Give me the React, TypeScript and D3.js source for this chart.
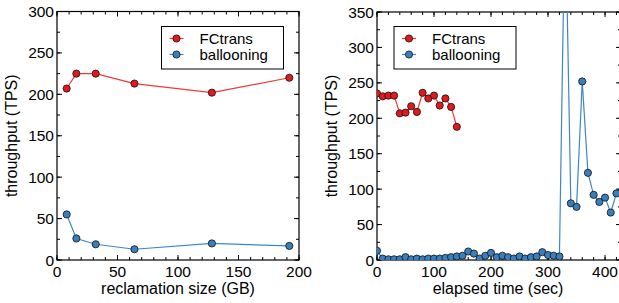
import React from "react";
import { scaleLinear, line, range } from "d3";

// left panel: throughput vs reclamation size
const sizeGB = [8, 16, 32, 64, 128, 192];
const sizeFCtrans = [207, 225, 225, 213, 202, 220];
const sizeBallooning = [55, 26, 19, 13, 20, 17];

// right panel: throughput over time
const timeFCtrans = [0, 10, 20, 30, 40, 50, 60, 70, 80, 90, 100, 110, 120, 130, 140];
const valFCtrans = [235, 231, 232, 232, 207, 208, 217, 209, 236, 228, 232, 218, 228, 216, 188];
const timeBallooning = [
  0, 10, 20, 30, 40, 50, 60, 70, 80, 90, 100, 110, 120, 130, 140, 150, 160, 170, 180, 190,
  200, 210, 220, 230, 240, 250, 260, 270, 280, 290, 300, 310, 320, 330, 340, 350, 360, 370,
  380, 390, 400, 410, 420,
];
const valBallooning = [
  13, 2, 1, 1, 1, 4, 1, 2, 1, 2, 2, 2, 3, 4, 5, 6, 12, 9, 2, 6, 10, 4, 6, 4, 2, 5, 2, 4, 5,
  11, 7, 6, 5, 510, 80, 75, 252, 123, 92, 82, 88, 67, 94,
];

const RED = "#e0191c";
const RED_LINE = "#f03a3a";
const BLUE = "#3a7fbd";
const BLUE_LINE = "#3f86c8";
const FONT = "'Liberation Sans', Arial, Helvetica, sans-serif";

type Series = { xs: number[]; ys: number[]; fill: string; stroke: string; name: string };

function Panel({
  x0, x1, y0, y1, xDomain, yMax, xMajor, xMinor, yMajor, yMinor, series, xLabel, legendX, clipId,
}: {
  x0: number; x1: number; y0: number; y1: number; xDomain: [number, number]; yMax: number;
  xMajor: number; xMinor: number; yMajor: number; yMinor: number; series: Series[];
  xLabel: string; legendX: number; clipId: string;
}) {
  const x = scaleLinear().domain(xDomain).range([x0, x1]);
  const y = scaleLinear().domain([0, yMax]).range([y1, y0]);
  const xEnd = x(xDomain[1]);
  const xMajorTicks = range(xDomain[0], xDomain[1] + 0.001, xMajor);
  const xMinorTicks = range(xDomain[0], xDomain[1] + 0.001, xMinor);
  const yMajorTicks = range(0, yMax + 0.001, yMajor);
  const yMinorTicks = range(0, yMax + 0.001, yMinor);

  return (
    <g>
      <defs>
        <clipPath id={clipId}>
          <rect x={x0} y={y0} width={xEnd - x0} height={y1 - y0} />
        </clipPath>
      </defs>
      {/* ticks, all inward */}
      {xMinorTicks.map((t) => (
        <g key={"xm" + t} stroke="#000" strokeWidth={1}>
          <line x1={x(t)} x2={x(t)} y1={y1} y2={y1 - 3} />
          <line x1={x(t)} x2={x(t)} y1={y0} y2={y0 + 3} />
        </g>
      ))}
      {xMajorTicks.map((t) => (
        <g key={"xM" + t}>
          <line x1={x(t)} x2={x(t)} y1={y1} y2={y1 - 5} stroke="#000" />
          <line x1={x(t)} x2={x(t)} y1={y0} y2={y0 + 5} stroke="#000" />
          <text x={x(t)} y={y1 + 17} textAnchor="middle" fontSize={15.5} fontFamily={FONT}>
            {t}
          </text>
        </g>
      ))}
      {yMinorTicks.map((t) => (
        <g key={"ym" + t} stroke="#000">
          <line x1={x0} x2={x0 + 3} y1={y(t)} y2={y(t)} />
          <line x1={xEnd} x2={xEnd - 3} y1={y(t)} y2={y(t)} />
        </g>
      ))}
      {yMajorTicks.map((t) => (
        <g key={"yM" + t}>
          <line x1={x0} x2={x0 + 5} y1={y(t)} y2={y(t)} stroke="#000" />
          <line x1={xEnd} x2={xEnd - 5} y1={y(t)} y2={y(t)} stroke="#000" />
          <text x={x0 - 3} y={y(t) + 5.5} textAnchor="end" fontSize={15.5} fontFamily={FONT}>
            {t}
          </text>
        </g>
      ))}
      <rect x={x0} y={y0} width={xEnd - x0} height={y1 - y0} fill="none" stroke="#000" strokeWidth={1.2} />

      <g clipPath={`url(#${clipId})`}>
        {series.map((s) => {
          const pts = s.xs.map((v, i) => [x(v), y(s.ys[i])] as [number, number]);
          return (
            <g key={s.name}>
              <path d={line()(pts) || ""} fill="none" stroke={s.stroke} strokeWidth={1.2} />
              {pts.map((p, i) => (
                <circle key={i} cx={p[0]} cy={p[1]} r={3.6} fill={s.fill} stroke="#111" strokeWidth={0.8} />
              ))}
            </g>
          );
        })}
      </g>

      {/* legend */}
      <rect x={legendX} y={26.5} width={122} height={42.5} fill="#fff" stroke="#000" strokeWidth={1} />
      {series.map((s, i) => {
        const cy = 38.5 + i * 16;
        return (
          <g key={"lg" + s.name}>
            <line x1={legendX + 8} x2={legendX + 22} y1={cy} y2={cy} stroke={s.stroke} strokeWidth={1.2} />
            <circle cx={legendX + 15} cy={cy} r={3.6} fill={s.fill} stroke="#111" strokeWidth={0.8} />
            <text x={legendX + 38} y={cy + 5} fontSize={15} fontFamily={FONT}>
              {s.name}
            </text>
          </g>
        );
      })}

      <text
        transform={`translate(${x0 - 40},${(y0 + y1) / 2}) rotate(-90)`}
        textAnchor="middle"
        fontSize={16}
        fontFamily={FONT}
      >
        throughput (TPS)
      </text>
      <text
        x={(x0 + Math.min(xEnd, 619) + (xEnd > 619 ? 0 : 0)) / 2}
        y={294}
        textAnchor="middle"
        fontSize={16}
        fontFamily={FONT}
      >
        {xLabel}
      </text>
    </g>
  );
}

export default function App() {
  return (
    <svg width={619} height={303} style={{ position: "absolute", left: 0, top: 0, background: "#fff" }}>
      <Panel
        x0={57}
        x1={299}
        y0={11.5}
        y1={260}
        xDomain={[0, 200]}
        yMax={300}
        xMajor={50}
        xMinor={10}
        yMajor={50}
        yMinor={25}
        xLabel="reclamation size (GB)"
        legendX={161.5}
        clipId="clipL"
        series={[
          { xs: sizeGB, ys: sizeFCtrans, fill: RED, stroke: RED_LINE, name: "FCtrans" },
          { xs: sizeGB, ys: sizeBallooning, fill: BLUE, stroke: BLUE_LINE, name: "ballooning" },
        ]}
      />
      <Panel
        x0={377}
        x1={621}
        y0={12}
        y1={260}
        xDomain={[0, 428]}
        yMax={350}
        xMajor={100}
        xMinor={20}
        yMajor={50}
        yMinor={25}
        xLabel="elapsed time (sec)"
        legendX={394}
        clipId="clipR"
        series={[
          { xs: timeFCtrans, ys: valFCtrans, fill: RED, stroke: RED_LINE, name: "FCtrans" },
          { xs: timeBallooning, ys: valBallooning, fill: BLUE, stroke: BLUE_LINE, name: "ballooning" },
        ]}
      />
    </svg>
  );
}
